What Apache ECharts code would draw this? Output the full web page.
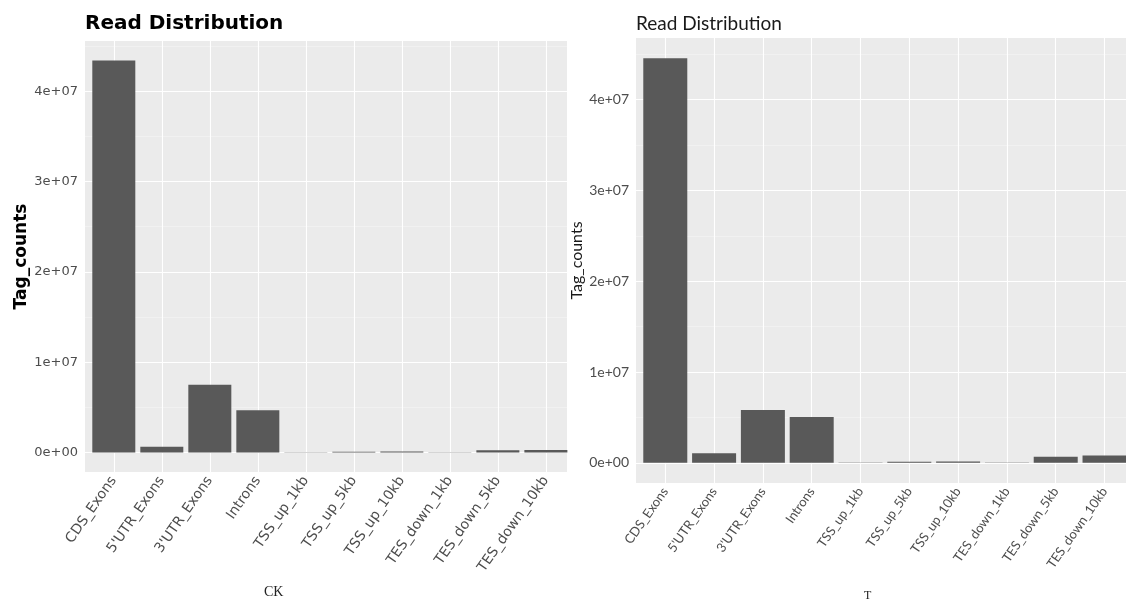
<!DOCTYPE html>
<html>
<head>
<meta charset="utf-8">
<script src="https://cdn.jsdelivr.net/npm/echarts@6/dist/echarts.min.js"></script>
<style>
  html, body { margin: 0; padding: 0; background: #fff; }
  #chart { width: 1126px; height: 600px; }
</style>
</head>
<body>
<div id="chart"></div>
<script>
var categories = ['CDS_Exons', "5'UTR_Exons", "3'UTR_Exons", 'Introns', 'TSS_up_1kb',
    'TSS_up_5kb', 'TSS_up_10kb', 'TES_down_1kb', 'TES_down_5kb', 'TES_down_10kb'];
var ckCounts = [43400000, 620000, 7500000, 4670000, 30000, 80000, 100000, 30000, 250000, 280000];
var tCounts = [44560000, 1040000, 5800000, 5030000, 20000, 100000, 150000, 20000, 650000, 800000];
var yTicks = [0, 10000000, 20000000, 30000000, 40000000];
var yMinor = [5000000, 15000000, 25000000, 35000000, 45000000];

var chartDom = document.getElementById('chart');
var myChart = echarts.init(chartDom);

function sci(v) {
    if (v === 0) return '0e+00';
    var e = Math.floor(Math.log10(Math.abs(v)));
    var m = Math.round(v / Math.pow(10, e));
    return m + 'e+' + (e < 10 ? '0' + e : e);
}

// ggplot style expansion: 5% on continuous, 0.6 on discrete
function yRange(arr) {
    var mx = Math.max.apply(null, arr);
    return { min: -0.05 * mx, max: 1.05 * mx };
}
var ckR = yRange(ckCounts);
var tR = yRange(tCounts);
var catIdx = categories.map(function (c, i) { return i; });

function gridLines() {
    var d = [];
    catIdx.forEach(function (i) { d.push({ xAxis: i }); });
    yTicks.forEach(function (v) { d.push({ yAxis: v }); });
    yMinor.forEach(function (v) {
        d.push({ yAxis: v, lineStyle: { color: 'rgba(255,255,255,0.55)', width: 0.6 } });
    });
    return {
        z: 1,
        silent: true,
        animation: false,
        symbol: ['none', 'none'],
        label: { show: false },
        emphasis: { disabled: true },
        lineStyle: { color: '#ffffff', width: 1.1, type: 'solid' },
        data: d
    };
}

function xAxisOf(gridIndex, fontSize, fontFamily) {
    return {
        type: 'value',
        gridIndex: gridIndex,
        min: -0.6,
        max: 9.44,
        axisLine: { show: false },
        splitLine: { show: false },
        axisTick: { show: true, customValues: catIdx, length: 3, lineStyle: { color: '#333' } },
        axisLabel: {
            customValues: catIdx,
            rotate: 55,
            margin: 6,
            color: '#4d4d4d',
            fontSize: fontSize,
            fontFamily: fontFamily,
            formatter: function (v) { return categories[Math.round(v)]; }
        }
    };
}

function yAxisOf(gridIndex, r, fontSize, fontFamily, name, nameStyle, nameGap) {
    return {
        type: 'value',
        gridIndex: gridIndex,
        min: r.min,
        max: r.max,
        name: name,
        nameLocation: 'middle',
        nameRotate: 90,
        nameGap: nameGap,
        nameTextStyle: nameStyle,
        axisLine: { show: false },
        splitLine: { show: false },
        axisTick: { show: true, customValues: yTicks, length: 3, lineStyle: { color: '#333' } },
        axisLabel: {
            customValues: yTicks,
            margin: 7,
            color: '#4d4d4d',
            fontSize: fontSize,
            fontFamily: fontFamily,
            formatter: sci
        }
    };
}

var option = {
    animation: false,
    backgroundColor: '#ffffff',
    graphic: [
        { type: 'rect', z: -10, shape: { x: 85, y: 41, width: 482, height: 431 }, style: { fill: '#ebebeb' } },
        { type: 'rect', z: -10, shape: { x: 636, y: 38, width: 490, height: 445 }, style: { fill: '#ebebeb' } }
    ],
    title: [
        {
            text: 'Read Distribution', left: 80, top: 9,
            textStyle: { fontFamily: 'DejaVu Sans', fontWeight: 'bold', fontSize: 20, color: '#000' }
        },
        {
            text: 'Read Distribution', left: 631, top: 9,
            textStyle: { fontFamily: 'Lato', fontWeight: 'normal', fontSize: 19, color: '#1a1a1a' }
        },
        {
            text: 'CK', left: 259, top: 580,
            textStyle: { fontFamily: 'Liberation Serif', fontWeight: 'normal', fontSize: 14, color: '#222' }
        },
        {
            text: 'T', left: 859, top: 585,
            textStyle: { fontFamily: 'Liberation Serif', fontWeight: 'normal', fontSize: 12, color: '#222' }
        }
    ],
    grid: [
        { left: 85, top: 41, width: 482, height: 431, containLabel: false },
        { left: 636, top: 38, width: 490, height: 445, containLabel: false }
    ],
    xAxis: [
        xAxisOf(0, 14, 'DejaVu Sans'),
        xAxisOf(1, 13, 'Lato')
    ],
    yAxis: [
        yAxisOf(0, ckR, 13, 'DejaVu Sans', 'Tag_counts',
            { fontFamily: 'DejaVu Sans', fontWeight: 'bold', fontSize: 17, color: '#000' }, 54),
        yAxisOf(1, tR, 14, 'Lato', 'Tag_counts',
            { fontFamily: 'Lato', fontWeight: 'normal', fontSize: 16, color: '#1a1a1a' }, 48)
    ],
    series: [
        {
            name: 'CK',
            type: 'bar',
            xAxisIndex: 0,
            yAxisIndex: 0,
            z: 2,
            barWidth: 43,
            itemStyle: { color: '#595959' },
            data: ckCounts.map(function (v, i) { return [i, v]; }),
            markLine: gridLines()
        },
        {
            name: 'T',
            type: 'bar',
            xAxisIndex: 1,
            yAxisIndex: 1,
            z: 2,
            barWidth: 44,
            itemStyle: { color: '#595959' },
            data: tCounts.map(function (v, i) { return [i, v]; }),
            markLine: gridLines()
        }
    ]
};

option && myChart.setOption(option);
</script>
</body>
</html>
